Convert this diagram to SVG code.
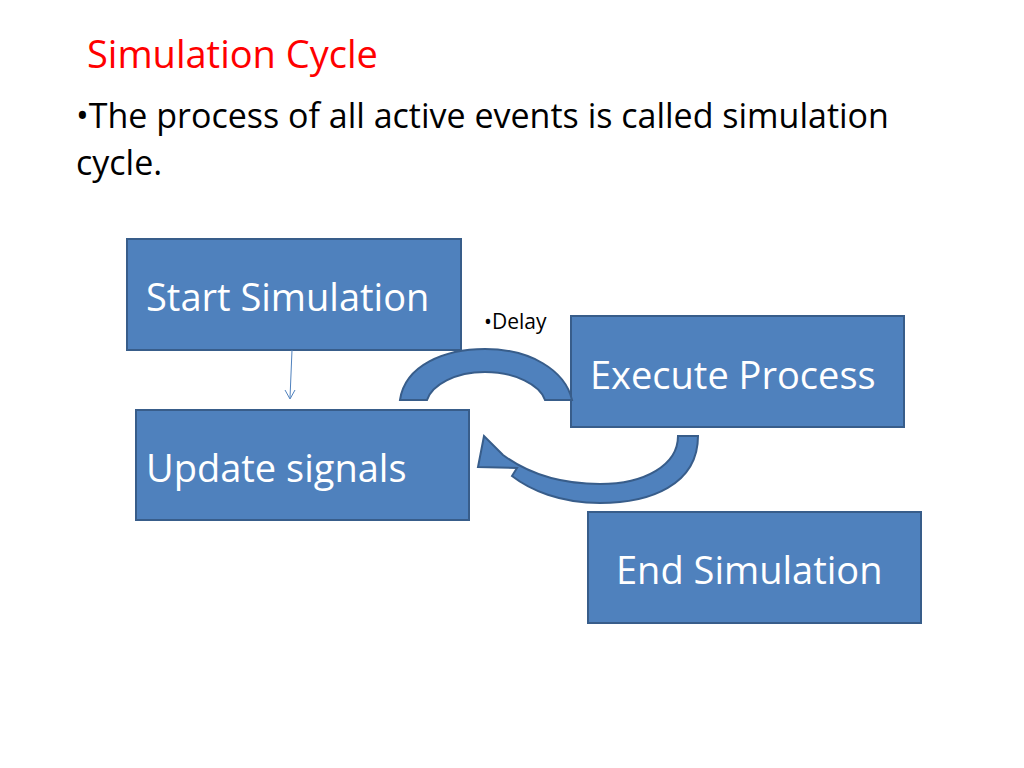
<svg xmlns="http://www.w3.org/2000/svg" width="1024" height="768" viewBox="0 0 1024 768">
<style>
.box{fill:#4f81bd;stroke:#385d8a;stroke-width:2}
.bt{font-family:"Open Sans","Liberation Sans",sans-serif;font-size:38px;fill:#fff}
.t{font-family:"Open Sans","Liberation Sans",sans-serif;fill:#000}
</style>
<rect width="1024" height="768" fill="#fff"/>
<text x="87" y="68" class="t" font-size="38" fill="#ff0000" style="fill:#f00">Simulation Cycle</text>
<text x="76" y="128" class="t" font-size="34">•The process of all active events is called simulation</text>
<text x="76" y="175" class="t" font-size="34">cycle.</text>
<g id="start"><rect class="box" x="127" y="239" width="334" height="111"/><text class="bt" x="146" y="311">Start Simulation</text></g>
<g id="update"><rect class="box" x="136" y="410" width="333" height="110"/><text class="bt" x="146" y="482">Update signals</text></g>
<g id="execute"><rect class="box" x="571" y="316" width="333" height="111"/><text class="bt" x="590" y="389">Execute Process</text></g>
<g id="end"><rect class="box" x="588" y="512" width="333" height="111"/><text class="bt" x="616" y="584">End Simulation</text></g>
<text x="484" y="329" class="t" font-size="21">•Delay</text>
<g id="connectors">
<line x1="292" y1="350" x2="290" y2="398" stroke="#4f81bd" stroke-width="1"/>
<path d="M285,390 L290,399 L295,390" fill="none" stroke="#4f81bd" stroke-width="1"/>
<path class="box" d="M400,400 C405,365 445,349 485,349 C530,349 565,370 572,400 L545,400 C540,385 515,372 485,372 C455,372 432,385 427,400 Z"/>
<path class="box" d="M698,436 C698,485 650,503 600,503 C560,503 530,490 512,476 L517,468 L478,467 L484,436 L503,455 C530,475 565,484 600,484 C645,484 678,465 678,436 Z"/>
</g>
</svg>
